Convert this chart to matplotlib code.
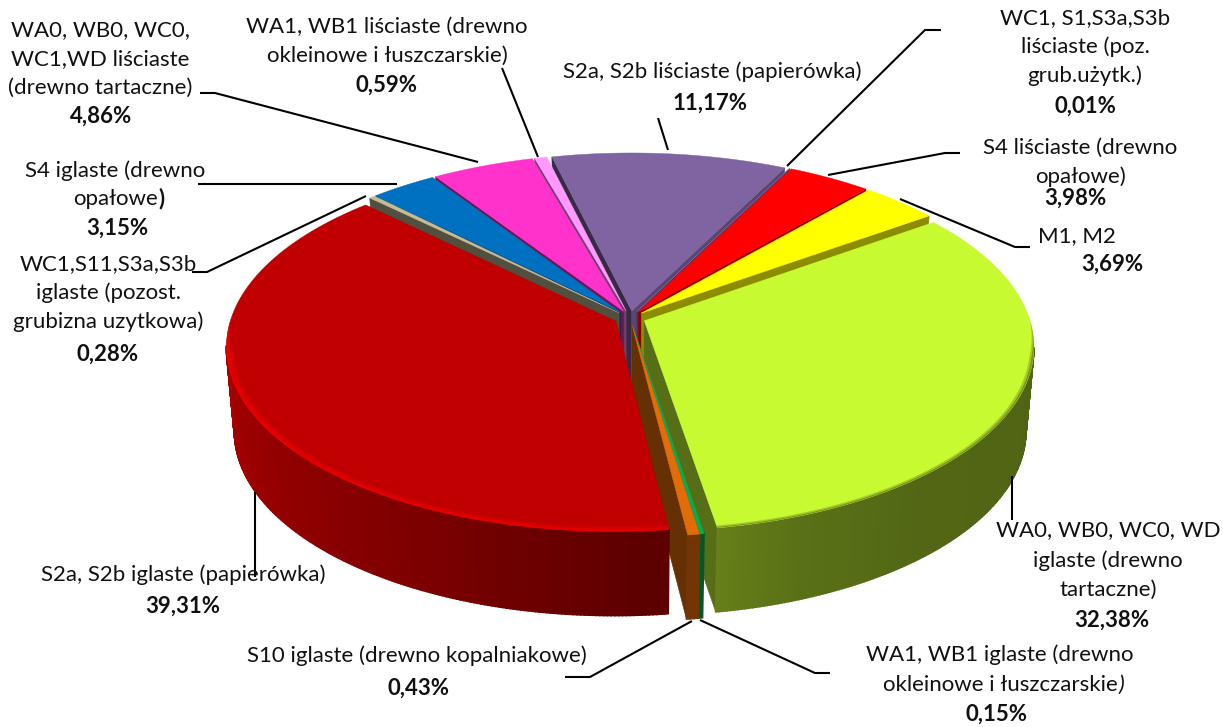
import numpy as np
import matplotlib
matplotlib.use("Agg")
import matplotlib.pyplot as plt
from matplotlib.colors import to_rgb

plt.rcParams['font.family'] = ['Lato', 'DejaVu Sans']

# clockwise, starting from the purple slice
names = [
    "S2a, S2b liściaste (papierówka)",
    "WC1, S1,S3a,S3b\nliściaste (poz.\ngrub.użytk.)",
    "S4 liściaste (drewno\nopałowe)",
    "M1, M2",
    "WA0, WB0, WC0, WD\niglaste (drewno\ntartaczne)",
    "WA1, WB1 iglaste (drewno\nokleinowe i łuszczarskie",
    "S10 iglaste (drewno kopalniakowe)",
    "S2a, S2b iglaste (papierówka)",
    "WC1,S11,S3a,S3b\niglaste (pozost.\ngrubizna uzytkowa)",
    "S4 iglaste (drewno\nopałowe",
    "WA0, WB0, WC0,\nWC1,WD liściaste\n(drewno tartaczne)",
    "WA1, WB1 liściaste (drewno\nokleinowe i łuszczarskie)",
]
values = [11.17, 0.01, 3.98, 3.69, 32.38, 0.15, 0.43, 39.31, 0.28, 3.15, 4.86, 0.59]
colors = ["#8064A2", "#8064A2", "#FF0000", "#FFFF00", "#C8FA32", "#00B050",
          "#E36C0A", "#C00000", "#C4BD97", "#0070C0", "#FF33CC", "#FF99FF"]

# layout
start_angle = -13.6
explode = 0.04
cx, cy = 630, 318
rx, ry = 385, 181
persp = 0.135
depth = 84
draw_order = [0, 11, 10, 9, 8, 1, 2, 3, 4, 5, 6, 7]
rim_colors = {7: "#E80000", 4: "#6E8522"}
rim_rings = {
    7: [(0.980, 0.987, 0.35), (0.987, 0.994, 0.75), (0.994, 1.0, 1.0)],
    4: [(0.990, 0.995, 0.4), (0.995, 1.0, 0.85)],
}
# closing brackets set in another style than their line
bracket_style = {5: dict(style='italic'), 9: dict(fontweight='bold')}

# label block positions: x centre, y of each line, y of the percent, x of percent
label_pos = [
    (712, [72], 103, 710),
    (1085, [18, 47, 76], 106, 1085),
    (1080, [148, 177], 198, 1075),
    (1077, [236], 264, 1112),
    (1108, [530, 561, 590], 620, 1112),
    (1000, [655, 685], 714, 996),
    (417, [656], 688, 418),
    (183, [575], 606, 183),
    (108, [264, 293, 322], 354, 108),
    (115, [171, 199], 228, 117),
    (100, [30, 59, 88], 116, 101),
    (387, [27, 56], 85, 387),
]
leaders = [
    [(658, 118), (668, 150)],
    [(941, 30), (925, 30), (787, 166)],
    [(828, 175), (945, 153), (960, 153)],
    [(900, 199), (1015, 247), (1030, 247)],
    [(1012, 476), (1012, 520)],
    [(700, 620), (815, 673), (830, 673)],
    [(692, 621), (590, 677), (565, 677)],
    [(255, 492), (255, 577)],
    [(366, 196), (207, 272), (192, 272)],
    [(397, 184), (198, 184)],
    [(478, 162), (215, 93), (200, 93)],
    [(538, 157), (502, 68)],
]


def project(u, v, z=0):
    f = 1 / (1 + persp * v)
    s = 1 - 0.02 * z
    return cx + rx * u * f * s, cy - ry * v * f + depth * z


def shade(c, k):
    return tuple(min(1, a * k) for a in to_rgb(c))


def side_color(i, a):
    if i == 7:
        return (np.interp(a, [175, 190, 210, 240, 270, 310], [0.36, 0.42, 0.50, 0.60, 0.68, 0.74]), 0, 0)
    if i == 4:
        k = np.interp(a, [54, 100, 140, 160, 171], [0.40, 0.40, 0.41, 0.45, 0.51])
        return shade(colors[i], k)
    return shade(colors[i], 0.5)


def wall(ax, apex, a, col):
    u, v = np.sin(np.radians(a)), np.cos(np.radians(a))
    p = [project(apex[0], apex[1]), project(apex[0] + u, apex[1] + v),
         project(apex[0] + u, apex[1] + v, 1), project(apex[0], apex[1], 1)]
    ax.fill(*zip(*p), color=col, lw=0.4)


def faces_camera(nu, nv, pu, pv):
    return nu * (0 - pu) + nv * (-1 / persp - pv) > 0


def draw_slice(ax, i, a0, a1):
    mid = np.radians((a0 + a1) / 2)
    apex = (explode * np.sin(mid), explode * np.cos(mid))
    r0, r1 = np.radians(a0), np.radians(a1)

    # radial walls that look towards the viewer
    if faces_camera(-np.cos(r0), np.sin(r0), *apex):
        wall(ax, apex, a0, shade(colors[i], 0.42))
    if faces_camera(np.cos(r1), -np.sin(r1), *apex):
        wall(ax, apex, a1, shade(colors[i], 0.70 if i == 0 else 0.55 if a1 < 90 else 0.44))

    # outer wall in small strips so the shading can change with the angle
    aa = np.linspace(a0, a1, max(2, int(a1 - a0) * 2 + 2))
    for a, b in zip(aa[:-1], aa[1:]):
        ra, rb = np.radians(a), np.radians(b)
        ua, va = apex[0] + np.sin(ra), apex[1] + np.cos(ra)
        ub, vb = apex[0] + np.sin(rb), apex[1] + np.cos(rb)
        if not faces_camera(np.sin(ra), np.cos(ra), ua, va):
            continue
        p = [project(ua, va), project(ub, vb), project(ub, vb, 1), project(ua, va, 1)]
        ax.fill(*zip(*p), color=side_color(i, (a + b) / 2), lw=1.2)

    # top face
    aa = np.radians(np.linspace(a0, a1, max(3, int(a1 - a0) * 2 + 3)))
    us = np.r_[apex[0], apex[0] + np.sin(aa)]
    vs = np.r_[apex[1], apex[1] + np.cos(aa)]
    ax.fill(*project(us, vs), color=colors[i], lw=0.3)

    # soft edge along the front of the rim, tapered towards the sides
    if i in rim_colors:
        base = np.array(to_rgb(colors[i]))
        rim = np.array(to_rgb(rim_colors[i]))
        keep = np.cos(aa) < 0
        ang = aa[keep]
        taper = np.clip(-np.cos(ang) / 0.2, 0, 1)
        for r_in, r_out, w in rim_rings[i]:
            ro = 1 - (1 - r_out) * taper
            ri = 1 - (1 - r_in) * taper
            uu = np.r_[apex[0] + ro * np.sin(ang), (apex[0] + ri * np.sin(ang))[::-1]]
            vv = np.r_[apex[1] + ro * np.cos(ang), (apex[1] + ri * np.cos(ang))[::-1]]
            ax.fill(*project(uu, vv), color=tuple(base + w * (rim - base)), lw=0)


fig = plt.figure(figsize=(12.23, 7.27), dpi=100)
ax = fig.add_axes([0, 0, 1, 1])
ax.set_xlim(0, 1223)
ax.set_ylim(727, 0)
ax.axis('off')

edges = start_angle + np.r_[0, np.cumsum(values)] * 360 / sum(values)
for i in draw_order:
    draw_slice(ax, i, edges[i], edges[i + 1])

for line in leaders:
    ax.plot(*zip(*line), color='black', lw=1.5, solid_capstyle='butt', solid_joinstyle='miter')

fs = 16
renderer = fig.canvas.get_renderer()
for i, (x, ys, py, px) in enumerate(label_pos):
    t = None
    for txt, y in zip(names[i].split("\n"), ys):
        t = ax.text(x, y, txt, ha='center', va='center', fontsize=fs, color='#111111')
    if i in bracket_style:
        # the last line of the label ends in the bracket
        end = t.get_window_extent(renderer).x1
        ax.text(end + 1, ys[-1], ")", ha='left', va='center', fontsize=fs, color='#111111', **bracket_style[i])
    ax.text(px, py, f"{values[i]:.2f}".replace('.', ',') + '%', ha='center', va='center',
            fontsize=fs, fontweight='bold', color='#111111')

fig.savefig("out.png", dpi=100)
